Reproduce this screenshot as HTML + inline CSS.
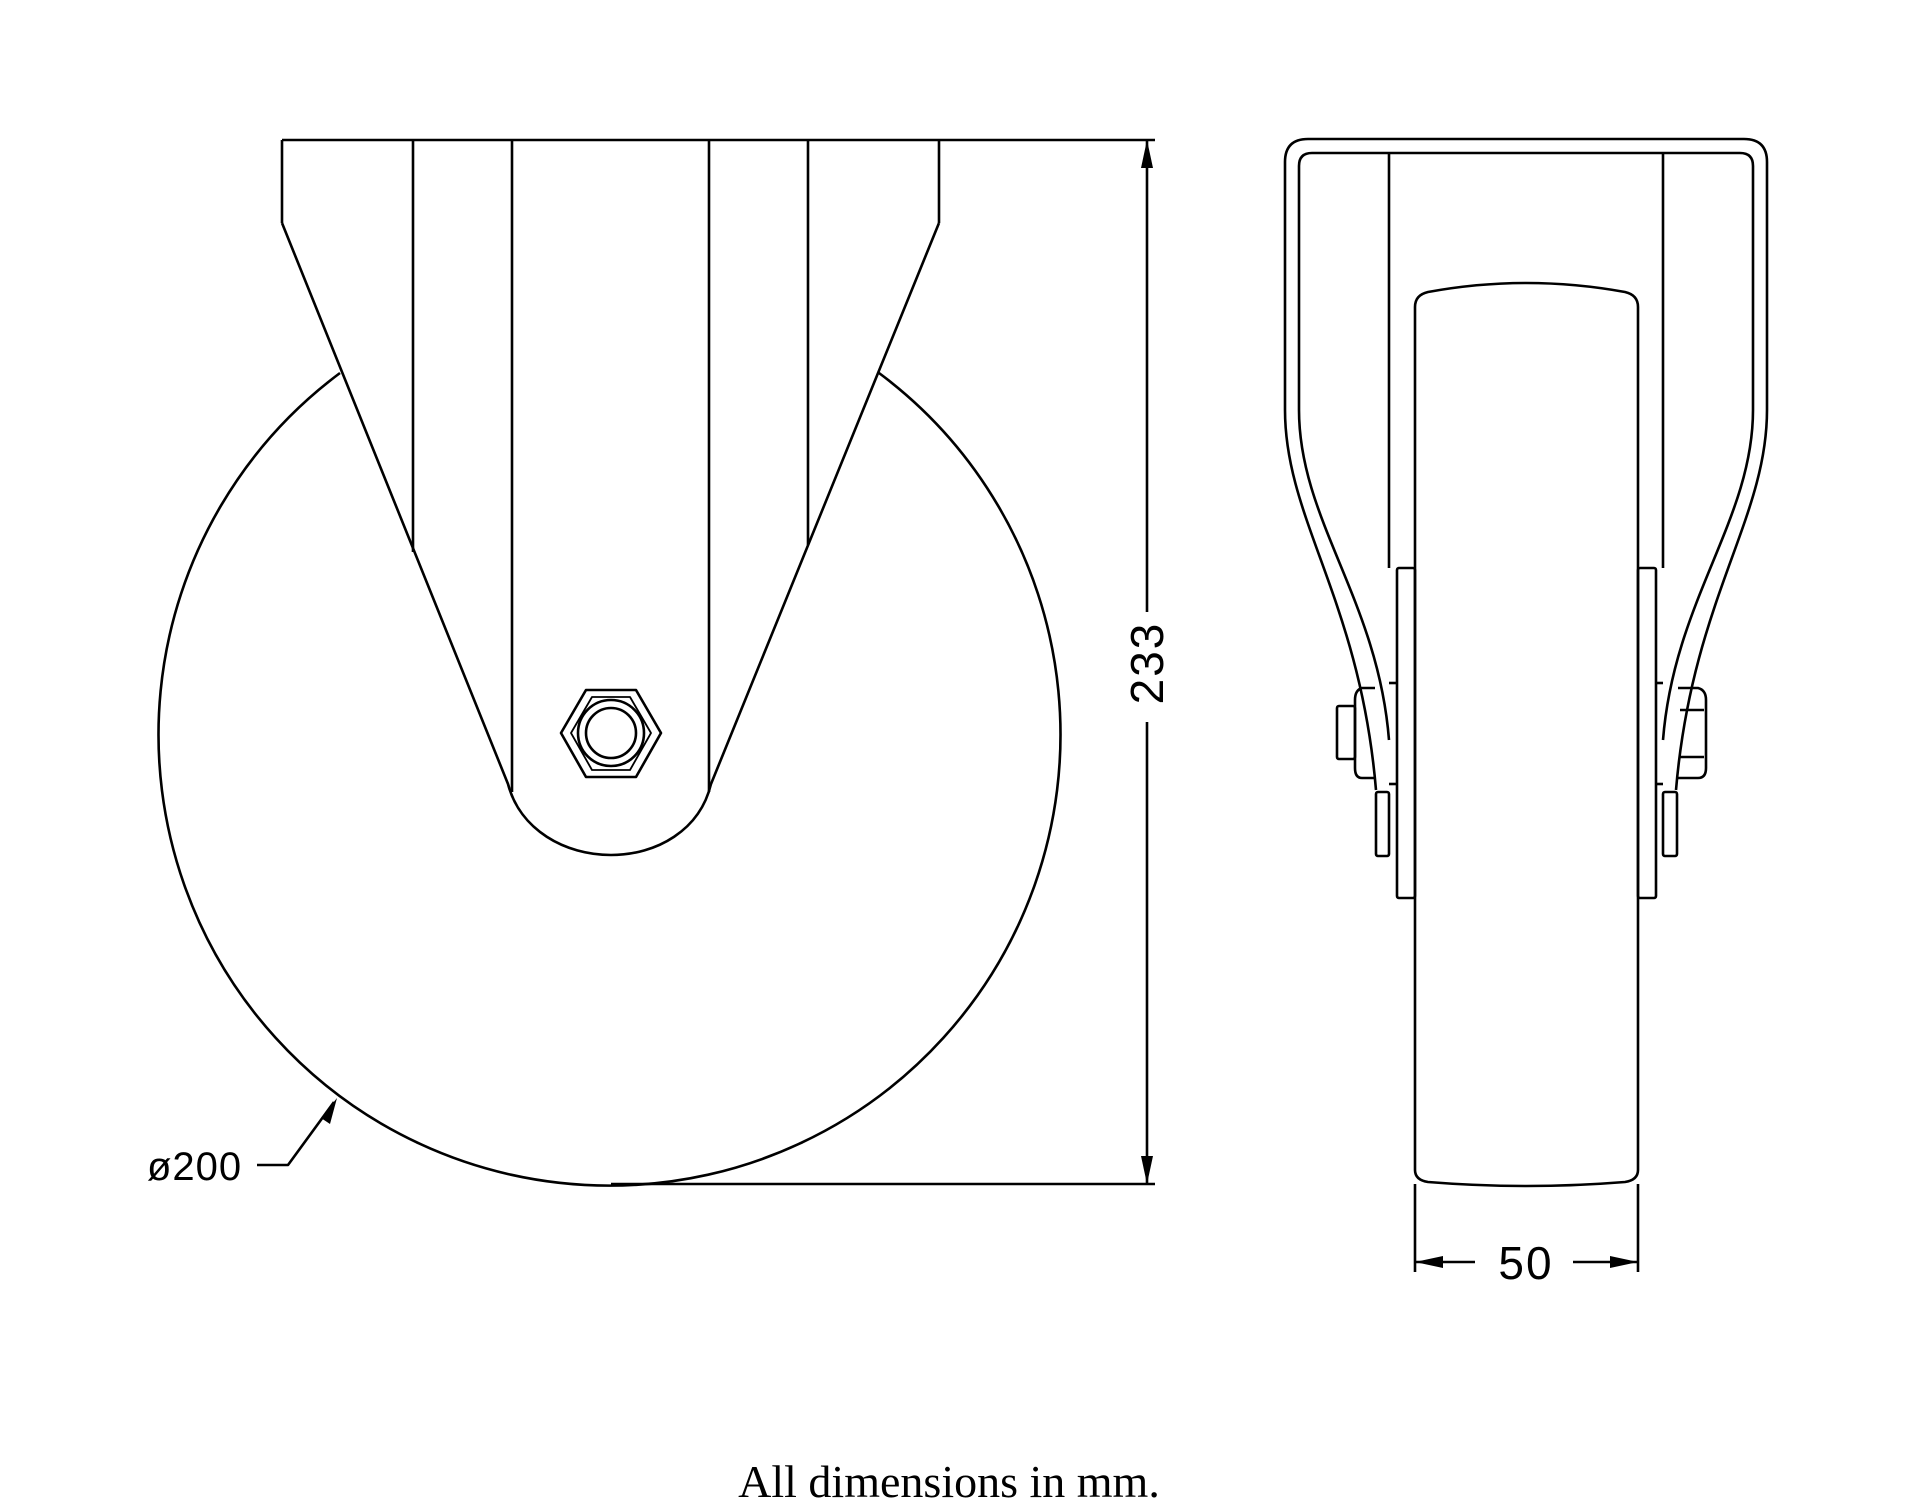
<!DOCTYPE html>
<html><head><meta charset="utf-8"><style>
html,body{margin:0;padding:0;background:#fff}
svg{display:block}
text{font-family:"Liberation Sans",sans-serif;fill:#000}
</style></head><body>
<svg width="1920" height="1502" viewBox="0 0 1920 1502" xmlns="http://www.w3.org/2000/svg">
<g fill="none" stroke="#000" stroke-width="2.6" stroke-linejoin="round">
<line x1="282" y1="140" x2="1155" y2="140"/>
<line x1="282" y1="140" x2="282" y2="223"/>
<line x1="939" y1="140" x2="939" y2="223"/>
<path d="M282,223 L508,784 C520,830 565,855 611,855 C657,855 700,830 711,784 L939,223"/>
<line x1="413" y1="140" x2="413" y2="552"/>
<line x1="808" y1="140" x2="808" y2="545"/>
<line x1="512" y1="140" x2="512" y2="792"/>
<line x1="709" y1="140" x2="709" y2="792"/>
<path d="M340,373 A451,451 0 1,0 879,373"/>
<polygon points="561,733 586,690 636,690 661,733 636,777 586,777"/>
<polygon points="571,733 592,697 630,697 651,733 630,770 592,770" stroke-width="1.8"/>
<circle cx="611" cy="733" r="33"/>
<circle cx="611" cy="733" r="25"/>
<line x1="1147" y1="140" x2="1147" y2="612"/>
<line x1="1147" y1="722" x2="1147" y2="1184"/>
<line x1="611" y1="1184" x2="1155" y2="1184"/>
<path d="M257,1165 L288,1165 L334,1102"/>
<path d="M1285,410 L1285,162 Q1285,139 1308,139 L1744,139 Q1767,139 1767,162 L1767,410"/>
<path d="M1299,410 L1299,166 Q1299,153 1312,153 L1740,153 Q1753,153 1753,166 L1753,410"/>
<path d="M1285,410 C1285,520 1360,600 1376,790"/>
<path d="M1299,410 C1299,520 1378,600 1389,740"/>
<path d="M1767,410 C1767,520 1692,600 1676,790"/>
<path d="M1753,410 C1753,520 1674,600 1663,740"/>
<line x1="1389" y1="153" x2="1389" y2="568"/>
<line x1="1663" y1="153" x2="1663" y2="568"/>
<path d="M1415,1170 L1415,307 Q1415,295 1428,292 Q1526,274 1625,292 Q1638,295 1638,307 L1638,1170 Q1638,1180 1625,1182 Q1526,1190 1428,1182 Q1415,1180 1415,1170 Z"/>
<rect x="1397" y="568" width="18" height="330" rx="2"/>
<rect x="1638" y="568" width="18" height="330" rx="2"/>
<line x1="1389" y1="683" x2="1397" y2="683"/>
<line x1="1389" y1="784" x2="1397" y2="784"/>
<line x1="1656" y1="683" x2="1663" y2="683"/>
<line x1="1656" y1="784" x2="1663" y2="784"/>
<rect x="1337" y="706" width="18" height="53" rx="2"/>
<path d="M1375,688 L1362,688 Q1355,690 1355,700 L1355,768 Q1355,778 1362,778 L1375,778"/>
<rect x="1376" y="792" width="13" height="64" rx="2"/>
<path d="M1678,688 L1698,688 Q1706,690 1706,700 L1706,768 Q1706,778 1698,778 L1678,778"/>
<line x1="1680" y1="710" x2="1704" y2="710"/>
<line x1="1680" y1="757" x2="1704" y2="757"/>
<rect x="1663" y="792" width="14" height="64" rx="2"/>
<line x1="1415" y1="1184" x2="1415" y2="1272"/>
<line x1="1638" y1="1184" x2="1638" y2="1272"/>
<line x1="1415" y1="1262" x2="1475" y2="1262"/>
<line x1="1573" y1="1262" x2="1638" y2="1262"/>
</g>
<g fill="#000">
<polygon points="1147,140 1141,168 1153,168"/>
<polygon points="1147,1184 1141,1156 1153,1156"/>
<polygon points="337,1098 321,1118 330,1124"/>
<polygon points="1415,1262 1443,1256 1443,1268"/>
<polygon points="1638,1262 1610,1256 1610,1268"/>
</g>
<text x="0" y="0" font-size="46" text-anchor="middle" letter-spacing="2" transform="translate(1163,663) rotate(-90)">233</text>
<text x="1526" y="1279" font-size="46" text-anchor="middle" letter-spacing="2">50</text>
<text x="147" y="1180" font-size="40" letter-spacing="1">ø200</text>
<text x="949" y="1497" font-size="46" text-anchor="middle" style="font-family:'Liberation Serif',serif">All dimensions in mm.</text>
</svg>
</body></html>
